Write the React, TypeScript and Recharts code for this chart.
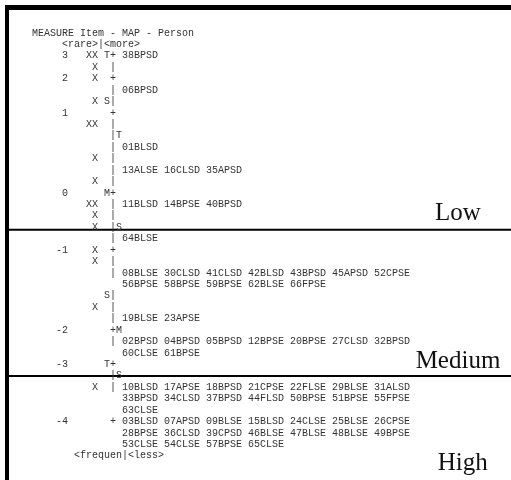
import { ComposedChart, Scatter, XAxis, YAxis, ReferenceLine } from "recharts";

// Wright map (Winsteps style), one entry per printed row
const headerLines = ["MEASURE Item - MAP - Person", "     <rare>|<more>"];
const footerLine = "       <frequen|<less>";

const measureTicks = ["3", "2", "1", "0", "-1", "-2", "-3", "-4"];
const tickRows = [0, 2, 5, 12, 17, 24, 27, 32];

const persons = [
  "XX", "X", "X", "", "X", "", "XX", "", "", "X", "", "X", "", "XX", "X", "X", "",
  "X", "X", "", "", "", "X", "", "", "", "", "", "", "X", "", "", "", "", "",
];

const personMarks: Record<number, string> = { 0: "T", 4: "S", 12: "M", 21: "S", 27: "T" };
const itemMarks: Record<number, string> = { 7: "T", 15: "S", 24: "M", 28: "S" };
const continuationRows = [20, 26, 30, 31, 33, 34];

const items: Record<number, string[]> = {
  0: ["38BPSD"],
  3: ["06BPSD"],
  8: ["01BLSD"],
  10: ["13ALSE", "16CLSD", "35APSD"],
  13: ["11BLSD", "14BPSE", "40BPSD"],
  16: ["64BLSE"],
  19: ["08BLSE", "30CLSD", "41CLSD", "42BLSD", "43BPSD", "45APSD", "52CPSE"],
  20: ["56BPSE", "58BPSE", "59BPSE", "62BLSE", "66FPSE"],
  23: ["19BLSE", "23APSE"],
  25: ["02BPSD", "04BPSD", "05BPSD", "12BPSE", "20BPSE", "27CLSD", "32BPSD"],
  26: ["60CLSE", "61BPSE"],
  29: ["10BLSD", "17APSE", "18BPSD", "21CPSE", "22FLSE", "29BLSE", "31ALSD"],
  30: ["33BPSD", "34CLSD", "37BPSD", "44FLSD", "50BPSE", "51BPSE", "55FPSE"],
  31: ["63CLSE"],
  32: ["03BLSD", "07APSD", "09BLSE", "15BLSD", "24CLSE", "25BLSE", "26CPSE"],
  33: ["28BPSE", "36CLSD", "39CPSD", "46BLSE", "47BLSE", "48BLSE", "49BPSE"],
  34: ["53CLSE", "54CLSE", "57BPSE", "65CLSE"],
};

const bandLabels = ["Low", "Medium", "High"];
const bandRows = [16.45, 29.4, 38.3];
const bandCols = [71, 71, 71.8];
const bandCuts = [17.3, 30.1];

function buildLine(r: number) {
  const t = tickRows.indexOf(r);
  const m = t >= 0 ? measureTicks[t] : "";
  const axis = t >= 0 ? "+" : continuationRows.includes(r) ? " " : "|";
  const line =
    m.padStart(6) +
    persons[r].padStart(5) +
    " " +
    (personMarks[r] || " ") +
    axis +
    (itemMarks[r] || " ") +
    (items[r] ? items[r].join(" ") : "");
  return line.replace(/\s+$/, "");
}

const lines = [
  ...headerLines.map((text, i) => ({ col: 0, row: i, text })),
  ...persons.map((_, r) => ({ col: 0, row: r + 2, text: buildLine(r) })),
  { col: 0, row: persons.length + 2, text: footerLine },
];

const bands = bandLabels.map((text, i) => ({ col: bandCols[i], row: bandRows[i], text }));

const MonoRow = (props: any) => (
  <text
    x={Math.round(props.cx)}
    y={Math.round(props.cy + 3.5)}
    xmlSpace="preserve"
    style={{ whiteSpace: "pre" }}
    fontFamily="'Liberation Mono', monospace"
    fontSize={10}
    fill="#333"
  >
    {props.payload.text}
  </text>
);

const BandLabel = (props: any) => (
  <text
    x={props.cx}
    y={props.cy}
    textAnchor="middle"
    fontFamily="'Liberation Serif', serif"
    fontSize={25}
    fill="#111"
  >
    {props.payload.text}
  </text>
);

export default function App() {
  return (
    <div
      style={{
        position: "absolute",
        left: 5,
        top: 5,
        width: 506,
        height: 475,
        boxSizing: "border-box",
        borderTop: "5px solid #000",
        borderLeft: "4px solid #000",
        background: "#fff",
        filter: "grayscale(100%)",
      }}
    >
      <ComposedChart width={502} height={470} margin={{ top: 0, right: 0, bottom: 0, left: 0 }}>
        <XAxis type="number" dataKey="col" domain={[-3.833, 79.833]} hide allowDataOverflow />
        <YAxis type="number" dataKey="row" domain={[-1.925, 39.195]} reversed hide allowDataOverflow />
        {bandCuts.map((y) => (
          <ReferenceLine key={y} y={y} stroke="#000" strokeWidth={2} />
        ))}
        <Scatter data={lines} shape={MonoRow} isAnimationActive={false} />
        <Scatter data={bands} shape={BandLabel} isAnimationActive={false} />
      </ComposedChart>
    </div>
  );
}
